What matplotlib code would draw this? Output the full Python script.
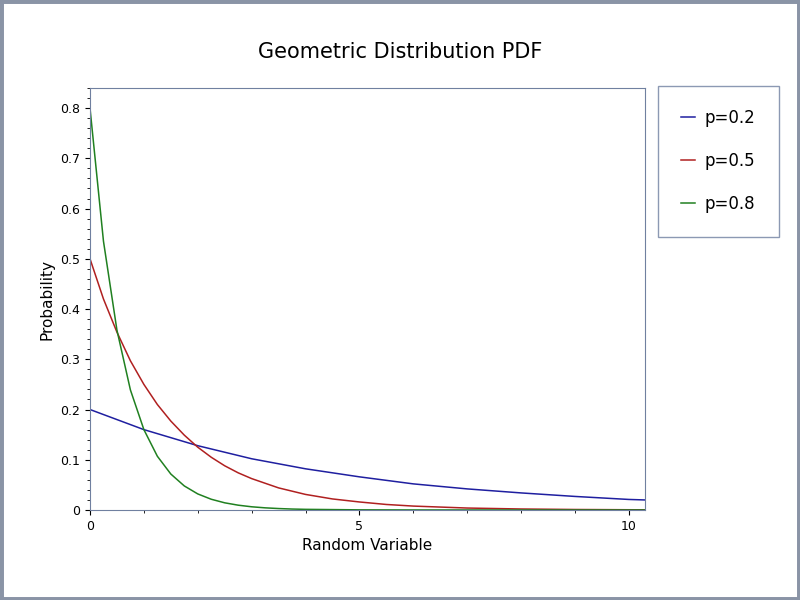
import matplotlib
matplotlib.use("Agg")
import matplotlib.pyplot as plt
from matplotlib.ticker import MultipleLocator
from matplotlib.patches import Rectangle

x_blue = [0,1,2,3,4,5,6,7,8,9,10,10.3]
y_blue = [0.200,0.160,0.128,0.102,0.082,0.066,0.052,0.042,0.034,0.027,0.021,0.020]
x_red = [0,0.25,0.5,0.75,1,1.25,1.5,1.75,2,2.25,2.5,2.75,3,3.5,4,4.5,5,5.5,6,7,8,9,10,10.3]
y_red = [0.5,0.420,0.354,0.297,0.25,0.210,0.177,0.149,0.125,0.105,0.088,0.074,0.0625,0.044,0.031,0.022,0.016,0.011,0.0078,0.0039,0.002,0.001,0.0005,0.0004]
x_green = [0,0.25,0.5,0.75,1,1.25,1.5,1.75,2,2.25,2.5,2.75,3,3.25,3.5,3.75,4,5,6,8,10,10.3]
y_green = [0.8,0.535,0.358,0.239,0.16,0.107,0.0716,0.0479,0.032,0.0214,0.0143,0.0096,0.0064,0.0043,0.0029,0.0019,0.0013,0.0003,0.0001,0,0,0]
labels = ["p=0.2","p=0.5","p=0.8"]
colors = ["#1f1fa0","#b02020","#208020"]

fig = plt.figure(figsize=(8,6), dpi=100)
fig.patches.append(Rectangle((0,0),1,1,transform=fig.transFigure,fill=False,
                             edgecolor="#8a94a6",linewidth=5))
ax = fig.add_axes([90/800, 1-510/600, 555/800, 422/600])
lines = []
for xs, ys, lab, c in [(x_blue,y_blue,labels[0],colors[0]),(x_red,y_red,labels[1],colors[1]),(x_green,y_green,labels[2],colors[2])]:
    l, = ax.plot(xs, ys, color=c, lw=1.1, label=lab)
    lines.append(l)
ax.set_xlim(0,10.3)
ax.set_ylim(0,0.84)
ax.xaxis.set_major_locator(MultipleLocator(5))
ax.xaxis.set_minor_locator(MultipleLocator(1))
ax.yaxis.set_major_locator(MultipleLocator(0.1))
ax.yaxis.set_minor_locator(MultipleLocator(0.02))
ax.yaxis.set_major_formatter(matplotlib.ticker.FuncFormatter(lambda v,p: "0" if abs(v)<1e-9 else f"{v:.1f}"))
for s in ax.spines.values():
    s.set_color("#7080a0")
ax.tick_params(labelsize=9)
ax.set_xlabel("Random Variable", fontsize=11)
ax.set_ylabel("Probability", fontsize=11)
fig.text(400/800, 1-52/600, "Geometric Distribution PDF", ha="center", va="center", fontsize=15)
leg = fig.legend(handles=lines, loc="upper left", bbox_to_anchor=(658/800, 1-86/600),
                 fontsize=12, frameon=True, fancybox=False, handlelength=0.8,
                 labelspacing=1.5, borderpad=1.4, handletextpad=0.6, borderaxespad=0)
leg.get_frame().set_edgecolor("#7080a0")
fig.savefig("out.png", dpi=100)
